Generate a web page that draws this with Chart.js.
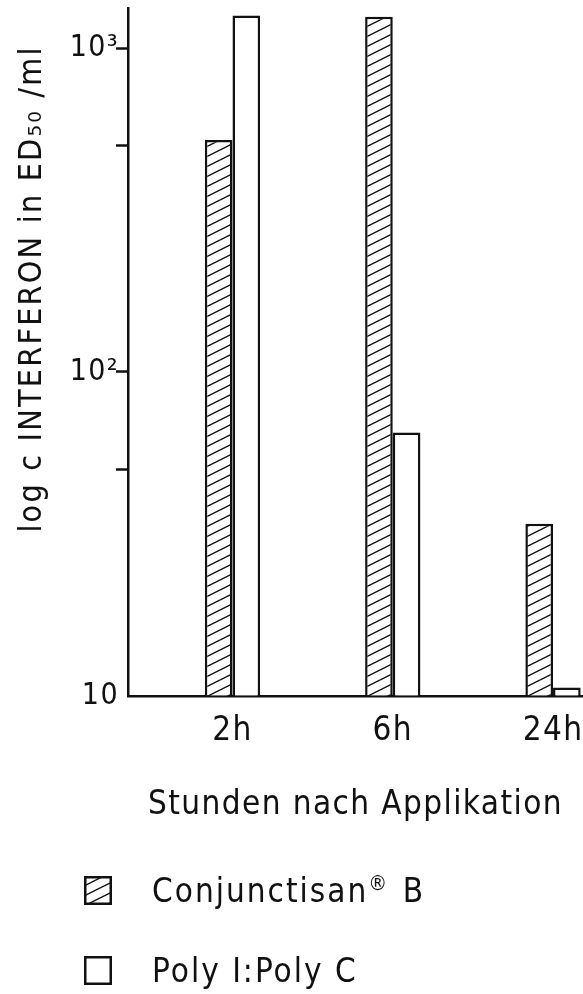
<!DOCTYPE html>
<html>
<head>
<meta charset="utf-8">
<title>Interferon</title>
<script src="https://cdn.jsdelivr.net/npm/chart.js@4.4.1/dist/chart.umd.min.js"></script>
<style>
  body { margin: 0; background: #fff; }
  #wrap { position: relative; width: 583px; height: 994px; font-family: 'DejaVu Sans Condensed', 'DejaVu Sans', sans-serif; color: #111; }
  #myChart { position: absolute; left: 0; top: 0; }
  .legend-row { position: absolute; left: 84px; height: 29px; display: flex; align-items: center; }
  .legend-row canvas { margin-right: 40px; }
  .legend-row span { font-size: 33px; line-height: 1; white-space: nowrap; letter-spacing: 2px; }
  .legend-row sup { font-size: 21px; vertical-align: 12px; line-height: 0; letter-spacing: 0; margin-right: 4px; }
</style>
</head>
<body>
<div id="wrap">
  <canvas id="myChart" width="583" height="994"></canvas>
  <div id="legend"></div>
</div>
<script>
const categories = ['2h', '6h', '24h']
const conjunctisan = [520, 1250, 34]
const polyIC = [1260, 65, 10.6]
const seriesNames = ['Conjunctisan® B', 'Poly I:Poly C']
const yTickValues = [10, 50, 100, 500, 1000]
const yTickLabels = { 10: '10', 100: '10²', 1000: '10³' }
const yTitleText = 'log c INTERFERON in ED₅₀ /ml'
const xTitleText = 'Stunden nach Applikation'

const font = "'DejaVu Sans Condensed', 'DejaVu Sans', sans-serif"
const ink = '#111'

const canvas = document.getElementById('myChart')
const ctx = canvas.getContext('2d')

// diagonal "/" hatching, used for the bars and the legend swatch
function hatch(c) {
    const tile = document.createElement('canvas')
    tile.width = 20
    tile.height = 10
    const t = tile.getContext('2d')
    t.fillStyle = '#fff'
    t.fillRect(0, 0, 20, 10)
    t.strokeStyle = ink
    t.lineWidth = 1.4
    for (let k = -1; k <= 1; k++) {
        t.beginPath()
        t.moveTo(0, 10 + 10 * k)
        t.lineTo(20, 10 * k)
        t.stroke()
    }
    return c.createPattern(tile, 'repeat')
}

const fills = [hatch(ctx), '#fff']

// the lettering in the original is widely spaced
const spacing = {
    id: 'spacing',
    beforeDraw(chart) { chart.ctx.letterSpacing = '1.4px' }
}

// y title sits higher than the middle of the axis, so draw it by hand
const yTitle = {
    id: 'yTitle',
    afterDraw(chart) {
        const c = chart.ctx
        c.save()
        c.translate(33, 289)
        c.rotate(-Math.PI / 2)
        c.font = '32px ' + font
        c.letterSpacing = '2.2px'
        c.fillStyle = ink
        c.textAlign = 'center'
        c.textBaseline = 'middle'
        c.fillText(yTitleText, 0, 0)
        c.restore()
    }
}

const config = {
    type: 'bar',
    data: {
        datasets: [conjunctisan, polyIC].map((values, d) => ({
            label: seriesNames[d],
            data: values.map((v, i) => ({ x: i, y: v })),
            backgroundColor: fills[d],
            borderColor: ink,
            borderWidth: 2.5,
            categoryPercentage: 0.345,
            barPercentage: 1
        }))
    },
    options: {
        responsive: false,
        animation: false,
        layout: {
            padding: { left: 0, right: 0, top: 8, bottom: 169 }
        },
        plugins: {
            legend: { display: false },
            tooltip: { enabled: false }
        },
        scales: {
            x: {
                type: 'linear',
                min: -0.652,
                max: 2.187,
                offset: false,
                grid: { display: false },
                border: { display: true, color: ink, width: 2.5 },
                afterBuildTicks: axis => { axis.ticks = categories.map((_, i) => ({ value: i })) },
                afterFit: axis => { axis.paddingLeft = 0; axis.paddingRight = 0 },
                ticks: {
                    callback: v => categories[v] ?? '',
                    font: { family: font, size: 33 },
                    color: ink,
                    padding: 8,
                    maxRotation: 0,
                    autoSkip: false
                },
                title: {
                    display: true,
                    text: xTitleText,
                    font: { family: font, size: 33 },
                    color: ink,
                    padding: { top: 26, bottom: 0 }
                }
            },
            y: {
                type: 'logarithmic',
                min: 10,
                max: 1330,
                afterBuildTicks: axis => { axis.ticks = yTickValues.map(v => ({ value: v })) },
                afterFit: axis => { axis.width = 128; axis.paddingTop = 0; axis.paddingBottom = 0 },
                grid: {
                    drawOnChartArea: false,
                    drawTicks: true,
                    tickLength: 12,
                    tickWidth: 2.5,
                    tickColor: c => (c.tick && c.tick.value === 10) ? 'rgba(0,0,0,0)' : ink
                },
                border: { display: true, color: ink, width: 2.5 },
                ticks: {
                    callback: v => yTickLabels[v] || '',
                    font: { family: font, size: 30 },
                    color: ink,
                    padding: -3,
                    autoSkip: false
                }
            }
        }
    },
    plugins: [spacing, yTitle]
}

const myChart = new Chart(canvas, config)

// legend: one row per series, stacked under the axis title
const legend = document.getElementById('legend')
myChart.data.datasets.forEach((ds, i) => {
    const row = document.createElement('div')
    row.className = 'legend-row'
    row.style.top = (876 + i * 80) + 'px'
    const sw = document.createElement('canvas')
    sw.width = 28
    sw.height = 29
    const s = sw.getContext('2d')
    s.fillStyle = i === 0 ? hatch(s) : '#fff'
    s.fillRect(0, 0, 28, 29)
    s.strokeStyle = ink
    s.lineWidth = 2.5
    s.strokeRect(1.25, 1.25, 25.5, 26.5)
    const label = document.createElement('span')
    label.innerHTML = ds.label.replace('®', '<sup>®</sup>')
    row.appendChild(sw)
    row.appendChild(label)
    legend.appendChild(row)
})
</script>
</body>
</html>
